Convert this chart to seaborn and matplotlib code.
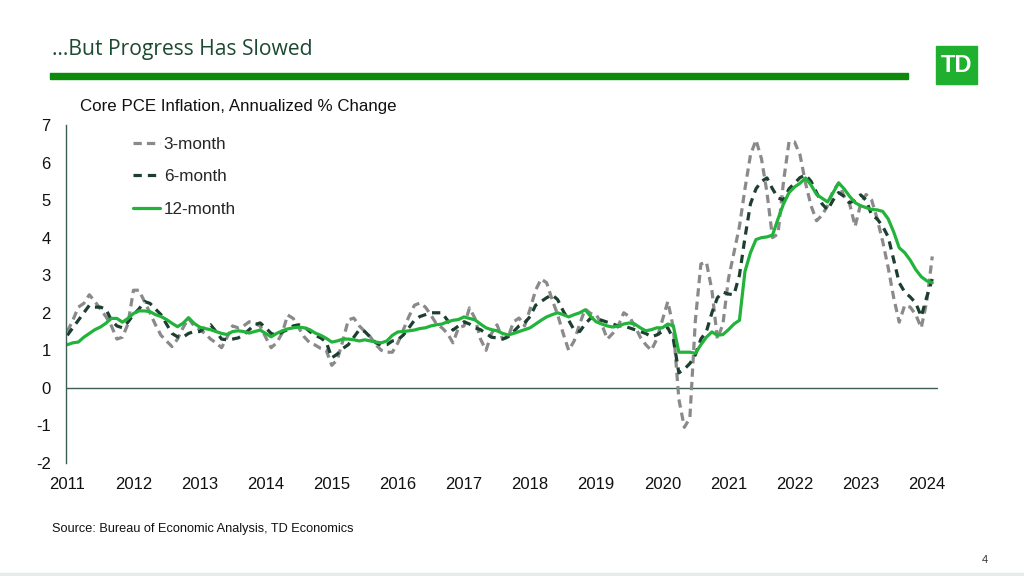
import numpy as np
import pandas as pd
import matplotlib
matplotlib.use("Agg")
import matplotlib.pyplot as plt
import seaborn as sns
from matplotlib.patches import Rectangle

# ---------------- data (monthly, Jan 2011 .. Feb 2024) ----------------
start_year = 2011
year_ticks = list(range(2011, 2025))

three_month = [
    1.5, 1.8, 2.15, 2.25, 2.48, 2.3, 2.1, 1.9, 1.65, 1.3, 1.35, 1.7,          # 2011
    2.6, 2.6, 2.3, 2.0, 1.68, 1.4, 1.25, 1.1, 1.3, 1.6, 1.85, 1.65,          # 2012
    1.55, 1.45, 1.3, 1.2, 1.07, 1.35, 1.65, 1.6, 1.65, 1.76, 1.72, 1.65,     # 2013
    1.35, 1.07, 1.2, 1.46, 1.94, 1.85, 1.6, 1.36, 1.2, 1.14, 1.05, 1.0,      # 2014
    0.6, 0.75, 1.25, 1.81, 1.86, 1.65, 1.5, 1.36, 1.15, 1.0, 0.95, 0.95,     # 2015
    1.2, 1.55, 1.9, 2.2, 2.26, 2.15, 1.94, 1.7, 1.6, 1.45, 1.2, 1.6,         # 2016
    1.65, 2.13, 1.85, 1.3, 1.0, 1.45, 1.68, 1.3, 1.35, 1.76, 1.86, 1.65,     # 2017
    2.1, 2.6, 2.9, 2.8, 2.35, 1.95, 1.45, 1.0, 1.25, 1.7, 2.1, 1.98,         # 2018
    1.95, 1.7, 1.3, 1.45, 1.65, 2.0, 1.9, 1.65, 1.35, 1.15, 1.0, 1.3,        # 2019
    1.8, 2.3, 1.6, -0.3, -1.05, -0.8, 1.8, 3.3, 3.35, 2.6, 1.3, 1.7,         # 2020
    2.9, 3.6, 4.3, 5.3, 6.2, 6.6, 6.1, 5.2, 4.0, 4.1, 5.5, 6.55,             # 2021
    6.55, 6.2, 5.45, 4.85, 4.45, 4.6, 4.85, 5.25, 5.45, 5.1, 4.9, 4.3,       # 2022
    4.9, 5.15, 5.0, 4.5, 3.9, 3.2, 2.4, 1.75, 2.2, 2.15, 1.95, 1.6,          # 2023
    2.3, 3.5,                                                               # 2024
]

six_month = [
    1.4, 1.6, 1.8, 2.0, 2.2, 2.15, 2.15, 2.1, 1.8, 1.65, 1.6, 1.75,          # 2011
    1.95, 2.1, 2.3, 2.25, 2.1, 1.95, 1.7, 1.45, 1.36, 1.35, 1.45, 1.5,       # 2012
    1.5, 1.6, 1.68, 1.5, 1.3, 1.28, 1.3, 1.33, 1.41, 1.55, 1.68, 1.73,       # 2013
    1.6, 1.45, 1.4, 1.49, 1.55, 1.65, 1.68, 1.63, 1.5, 1.4, 1.33, 1.22,      # 2014
    0.8, 0.9, 1.05, 1.15, 1.35, 1.55, 1.5, 1.35, 1.2, 1.14, 1.15, 1.25,      # 2015
    1.28, 1.41, 1.6, 1.8, 1.9, 1.95, 2.0, 2.0, 2.0, 1.8, 1.54, 1.65,         # 2016
    1.76, 1.7, 1.6, 1.55, 1.45, 1.35, 1.33, 1.3, 1.36, 1.5, 1.65, 1.73,      # 2017
    1.9, 2.2, 2.3, 2.4, 2.48, 2.35, 2.05, 1.8, 1.54, 1.5, 1.7, 1.86,         # 2018
    1.85, 1.8, 1.75, 1.7, 1.65, 1.65, 1.6, 1.55, 1.5, 1.45, 1.36, 1.41,      # 2019
    1.5, 1.6, 1.3, 0.4, 0.5, 0.65, 0.88, 1.3, 1.5, 2.0, 2.4, 2.55,           # 2020
    2.5, 2.48, 3.0, 4.0, 4.9, 5.3, 5.5, 5.59, 5.3, 5.06, 5.0, 5.3,           # 2021
    5.45, 5.6, 5.67, 5.5, 5.2, 4.9, 4.74, 5.0, 5.2, 5.1, 4.93, 5.0,          # 2022
    5.14, 5.0, 4.6, 4.5, 4.3, 4.02, 3.41, 2.8, 2.55, 2.42, 2.26, 1.9,        # 2023
    2.42, 2.9,                                                              # 2024
]

twelve_month = [
    1.15, 1.2, 1.22, 1.35, 1.45, 1.55, 1.62, 1.72, 1.85, 1.85, 1.75, 1.85,   # 2011
    1.98, 2.05, 2.05, 2.03, 1.95, 1.9, 1.82, 1.72, 1.63, 1.72, 1.87, 1.72,   # 2012
    1.62, 1.58, 1.55, 1.5, 1.45, 1.42, 1.5, 1.52, 1.5, 1.46, 1.5, 1.54,      # 2013
    1.45, 1.36, 1.45, 1.52, 1.57, 1.6, 1.62, 1.6, 1.55, 1.46, 1.4, 1.32,     # 2014
    1.22, 1.25, 1.3, 1.3, 1.28, 1.25, 1.28, 1.25, 1.22, 1.2, 1.25, 1.4,      # 2015
    1.49, 1.5, 1.52, 1.54, 1.58, 1.6, 1.65, 1.68, 1.7, 1.76, 1.8, 1.82,      # 2016
    1.89, 1.85, 1.81, 1.7, 1.6, 1.55, 1.52, 1.45, 1.41, 1.45, 1.5, 1.55,     # 2017
    1.6, 1.7, 1.8, 1.89, 1.95, 2.0, 1.95, 1.89, 1.95, 2.0, 2.08, 1.9,        # 2018
    1.76, 1.7, 1.65, 1.62, 1.65, 1.7, 1.73, 1.7, 1.6, 1.52, 1.55, 1.6,       # 2019
    1.6, 1.7, 1.65, 0.95, 0.95, 0.95, 0.92, 1.15, 1.35, 1.49, 1.4, 1.42,     # 2020
    1.55, 1.7, 1.8, 3.1, 3.6, 3.95, 4.0, 4.02, 4.07, 4.5, 4.9, 5.2,          # 2021
    5.35, 5.45, 5.59, 5.4, 5.15, 5.05, 4.95, 5.2, 5.46, 5.3, 5.1, 4.93,      # 2022
    4.85, 4.8, 4.75, 4.74, 4.7, 4.5, 4.15, 3.73, 3.6, 3.4, 3.15, 2.96,       # 2023
    2.85, 2.8,                                                              # 2024
]

series_names = ["3-month", "6-month", "12-month"]

n = len(twelve_month)
t = start_year + np.arange(n) / 12.0
df = pd.DataFrame({"t": t, "3-month": three_month, "6-month": six_month,
                   "12-month": twelve_month})
long = df.melt(id_vars="t", var_name="series", value_name="value")

# ---------------- styling ----------------
sns.set_theme(style="white")
plt.rcParams["font.family"] = ["Liberation Sans", "DejaVu Sans"]
plt.rcParams["axes.unicode_minus"] = False

fig = plt.figure(figsize=(10.24, 5.76), dpi=100)
ax = fig.add_axes([66 / 1024, 1 - 463 / 576, (938 - 66) / 1024, (463 - 125) / 576])

palette = {"3-month": "#8a8a8a", "6-month": "#1c3f2f", "12-month": "#22b33a"}
dashes = {"3-month": (2.6, 1.6), "6-month": (2.6, 1.9), "12-month": ""}

sns.lineplot(data=long, x="t", y="value", hue="series", style="series",
             hue_order=series_names, style_order=series_names,
             palette=palette, dashes=dashes, linewidth=2.3, ax=ax,
             legend=True)

ax.axhline(0, color="#3b5f52", lw=1.0, zorder=1)
ax.set_xlim(start_year - 0.02, 2024.17)
ax.set_ylim(-2, 7)
ax.set_yticks(range(-2, 8))
ax.set_xticks(year_ticks)
ax.set_xticklabels([str(y) for y in year_ticks])
ax.tick_params(axis="x", length=0, pad=10, labelsize=12, colors="#111111")
ax.tick_params(axis="y", length=0, pad=11, labelsize=12, colors="#111111")
ax.set_xlabel("")
ax.set_ylabel("")
for s in ["top", "right", "bottom"]:
    ax.spines[s].set_visible(False)
ax.spines["left"].set_color("#3b5f52")
ax.spines["left"].set_linewidth(1.0)

leg = ax.legend(loc="upper left", bbox_to_anchor=(0.069, 0.985), frameon=False,
                fontsize=12.3, handlelength=1.6, handletextpad=0.2,
                labelspacing=1.02, borderaxespad=0)
for line in leg.get_lines():
    line.set_linewidth(2.3)

# ---------------- slide decorations ----------------
fig.text(52 / 1024, 1 - 49 / 576, "\u2026But Progress Has Slowed",
         fontsize=15.2, color="#1d4a33", family=["Open Sans", "DejaVu Sans"],
         va="center", ha="left")
fig.patches.append(Rectangle((50 / 1024, 1 - 79 / 576), (908 - 50) / 1024, 6 / 576,
                             transform=fig.transFigure, color="#0b8a0b", zorder=2))
fig.patches.append(Rectangle((936 / 1024, 1 - 84 / 576), 41 / 1024, 38 / 576,
                             transform=fig.transFigure, color="#1fb02f", zorder=2))
fig.text(956.5 / 1024, 1 - 65 / 576, "TD", fontsize=17, fontweight="bold",
         color="white", ha="center", va="center", family=["Liberation Sans Narrow", "Liberation Sans"])
fig.text(80 / 1024, 1 - 106 / 576, "Core PCE Inflation, Annualized % Change",
         fontsize=12.2, color="#111111", va="center", ha="left")
fig.text(52 / 1024, 1 - 529 / 576, "Source: Bureau of Economic Analysis, TD Economics",
         fontsize=9.2, color="#111111", va="center", ha="left")
fig.text(985 / 1024, 1 - 560 / 576, "4", fontsize=8, color="#333333",
         va="center", ha="center")
fig.patches.append(Rectangle((0, 0), 1, 3 / 576, transform=fig.transFigure,
                             color="#e6ece8", zorder=1))

fig.savefig("out.png", dpi=100)
